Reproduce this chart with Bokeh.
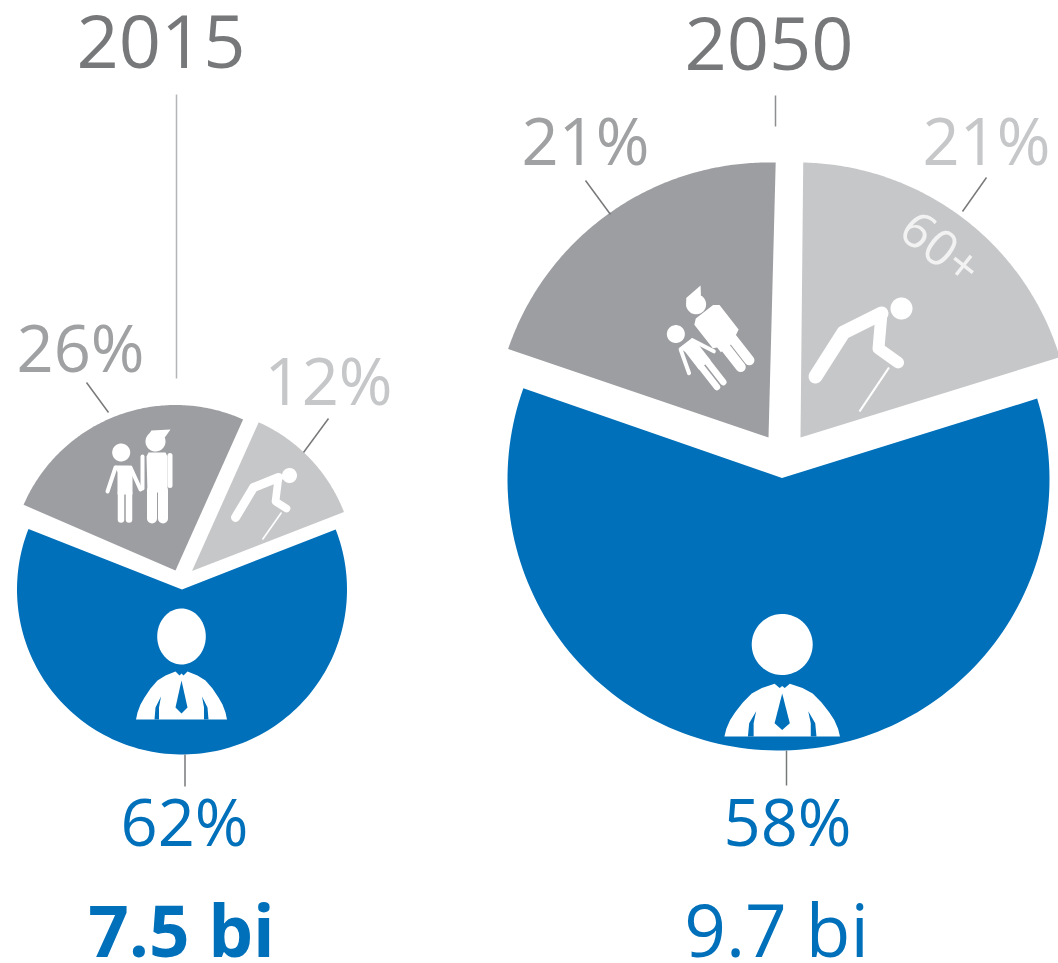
import numpy as np
from bokeh.plotting import figure
from bokeh.models import Range1d
from bokeh.core.properties import value
from bokeh.embed import file_html
from bokeh.resources import INLINE

# ---- data ----
years = ["2015", "2050"]
totals = ["7.5 bi", "9.7 bi"]
groups = ["15-59", "under 15", "60+"]
labels_2015 = [62, 26, 12]
labels_2050 = [58, 21, 21]
# share of the circle each slice is actually drawn with (blue, dark, light)
drawn_2015 = [61.9, 25.2, 12.4]
drawn_2050 = [60.3, 20.2, 20.0]

BLUE, DARK, LIGHT = "#0070BA", "#9D9EA1", "#C6C7C9"
TITLE = "#77787A"
FONT = "Open Sans"

p = figure(width=1058, height=963, x_range=Range1d(0, 1058), y_range=Range1d(963, 0),
           output_backend="svg", toolbar_location=None, min_border=0,
           outline_line_color=None, background_fill_color="white", border_fill_color="white")
p.axis.visible = False
p.grid.visible = False


def draw_slice(share, start_deg, apex, center, r, color):
    """Slice of a circle; start_deg is measured anticlockwise on screen from 3 o'clock."""
    a = np.radians(np.linspace(start_deg, start_deg + share * 3.6, 140))
    xs = [apex[0]] + list(center[0] + r * np.cos(a))
    ys = [apex[1]] + list(center[1] - r * np.sin(a))
    p.patch(xs, ys, fill_color=color, line_color=None)


# 2015 pie
draw_slice(drawn_2015[0], 158.5, (181.5, 589), (181.5, 589), 165, BLUE)
draw_slice(drawn_2015[1], 65.9, (175, 570), (175, 570), 165.5, DARK)
draw_slice(drawn_2015[2], 21.2, (191.5, 570.5), (191.5, 570.5), 163, LIGHT)
# 2050 pie
draw_slice(drawn_2050[0], 160.3, (781.5, 477.5), (778, 479), 271, BLUE)
draw_slice(drawn_2050[1], 88.5, (768, 437), (768, 437), 275, DARK)
draw_slice(drawn_2050[2], 16.8, (800, 437), (797, 436), 274, LIGHT)

# leader lines
for x0, y0, x1, y1, col, w in [
    (176, 94, 176, 378, "#B4B5B7", 1.5), (775, 95, 775, 126, "#8E8F91", 1.5),
    (86, 382, 108, 412, "#77787A", 1.5), (328, 418, 303, 452, "#77787A", 1.5),
    (184.5, 754, 184.5, 786, "#77787A", 1.5), (585, 180, 610, 214, "#77787A", 1.5),
    (986, 177, 962, 211, "#77787A", 1.5), (786, 750, 786, 785, "#77787A", 1.5),
]:
    p.line([x0, x1], [y0, y1], line_color=col, line_width=w)


def ellipse_pts(cx, cy, rx, ry):
    t = np.linspace(0, 2 * np.pi, 60)
    return list(zip(cx + rx * np.cos(t), cy + ry * np.sin(t)))


def person(cx, head_y, head_rx, head_ry, base_y, sx, sy):
    pts = ellipse_pts(cx, head_y, head_rx, head_ry)
    p.patch([q[0] for q in pts], [q[1] for q in pts], fill_color="white", line_color=None)
    T = lambda L: ([cx + sx * q[0] for q in L], [base_y - sy * q[1] for q in L])
    left = [(-45.5, 0), (-44, 7), (-41, 15), (-37, 22), (-31, 31), (-24, 39), (-16, 44), (-6, 48)]
    body = left + [(-2, 44), (0, 46), (2, 44)] + [(-q[0], q[1]) for q in reversed(left)]
    x, y = T(body)
    p.patch(x, y, fill_color="white", line_color=None)
    x, y = T([(0, 39), (-6, 12), (0, 6), (6, 12)])
    p.patch(x, y, fill_color=BLUE, line_color=None)
    for s in (-1, 1):
        x, y = T([(s * 27, 0), (s * 26, 12), (s * 20.5, 23), (s * 22.5, 12), (s * 22.5, 0)])
        p.patch(x, y, fill_color=BLUE, line_color=None)


person(181, 636, 24.3, 28, 719, 1.0, 1.0)
person(781.7, 644, 30.5, 30.5, 736, 1.27, 1.1)


def family(rot_deg=0.0, anchor=(155, 440), dest=(155, 440), solid=False):
    r = np.radians(rot_deg)
    c, s = np.cos(r), np.sin(r)

    def T(L):
        xs, ys = [], []
        for x, y in L:
            dx, dy = x - anchor[0], y - anchor[1]
            xs.append(dest[0] + dx * c - dy * s)
            ys.append(dest[1] + dx * s + dy * c)
        return xs, ys

    torso = ([(146, 452), (168, 452), (173, 456), (173, 487), (167, 490), (167, 494), (145, 494),
              (145, 488), (141, 486), (141, 456)] if solid else
             [(148, 452), (165, 452), (167, 456), (167, 492), (147, 492), (146, 456)])
    polys = [
        ellipse_pts(155, 441, 10, 10),
        [(146, 437), (151, 430), (170, 429), (165, 436), (160, 441)],
        torso,
        ellipse_pts(120.7, 452, 9, 9),
        [(115, 465), (129, 465), (132, 470), (132, 494), (117, 494), (117, 472)],
    ]
    for poly in polys:
        x, y = T(poly)
        p.patch(x, y, fill_color="white", line_color=None)
    limbs = [
        ([(151.5, 490), (151.5, 518)], 10), ([(162.5, 490), (162.5, 518)], 10),
        ([(120.5, 492), (120.5, 519)], 6.5), ([(128.5, 492), (128.5, 519)], 6.5),
        ([(115, 467), (107, 491)], 4), ([(130, 467), (140, 489)], 4),
    ]
    if not solid:
        limbs += [([(169.5, 455), (169.5, 485)], 5), ([(142, 456), (142, 488)], 4)]
    for pts, w in limbs:
        x, y = T(pts)
        p.line(x, y, line_color="white", line_width=w, line_cap="round", line_join="round")


family()
family(-38, (155, 440), (695, 303), solid=True)


def elder(head, r, foot, hip, shoulder, back, knee, w, c0, c1, cw):
    pts = ellipse_pts(head[0], head[1], r, r)
    p.patch([q[0] for q in pts], [q[1] for q in pts], fill_color="white", line_color=None)
    p.line([foot[0], hip[0], shoulder[0]], [foot[1], hip[1], shoulder[1]], line_color="white",
           line_width=w, line_cap="round", line_join="round")
    p.line([shoulder[0], back[0], knee[0]], [shoulder[1], back[1], knee[1]], line_color="white",
           line_width=w * 0.85, line_cap="round", line_join="round")
    p.line([c0[0], c1[0]], [c0[1], c1[1]], line_color="white", line_width=cw)


elder((289, 475), 7.5, (235, 517), (253, 487), (278, 477), (275, 501), (286, 508), 9,
      (281, 512), (262, 539), 1.6)
elder((901, 308), 11, (815, 376), (843, 332), (881, 313), (878, 348), (897.6, 362), 14,
      (888.5, 367), (859, 411), 2.2)


def put(txt, x, y, size, color, style="normal", angle=0.0):
    # y is the text's baseline; "middle" anchors about 0.37 em above it
    k = 0.37 * size
    r = np.radians(angle)
    p.text([x - k * np.sin(r)], [y - k * np.cos(r)], text=[txt], text_font=value(FONT),
           text_font_size=f"{size}px", text_color=color, text_align="center",
           text_baseline="middle", text_font_style=style, angle=angle, angle_units="deg")


put(years[0], 160.5, 68, 74, TITLE)
put(years[1], 768.5, 70, 74, TITLE)
put(f"{labels_2015[1]}%", 80, 371, 65, "#A0A1A3")
put(f"{labels_2015[2]}%", 328, 404, 65, LIGHT)
put(f"{labels_2015[0]}%", 184, 845, 65, BLUE)
put(f"{labels_2050[1]}%", 585, 164, 65, "#A0A1A3")
put(f"{labels_2050[2]}%", 986, 164, 65, LIGHT)
put(f"{labels_2050[0]}%", 787, 845, 65, BLUE)
put(totals[0], 181, 955, 71, BLUE, style="bold")
put(totals[1], 776, 955, 73, BLUE)
put(groups[2], 929, 262, 50, "#F2F2F2", angle=-38)

open("out.html", "w").write(file_html(p, INLINE))
